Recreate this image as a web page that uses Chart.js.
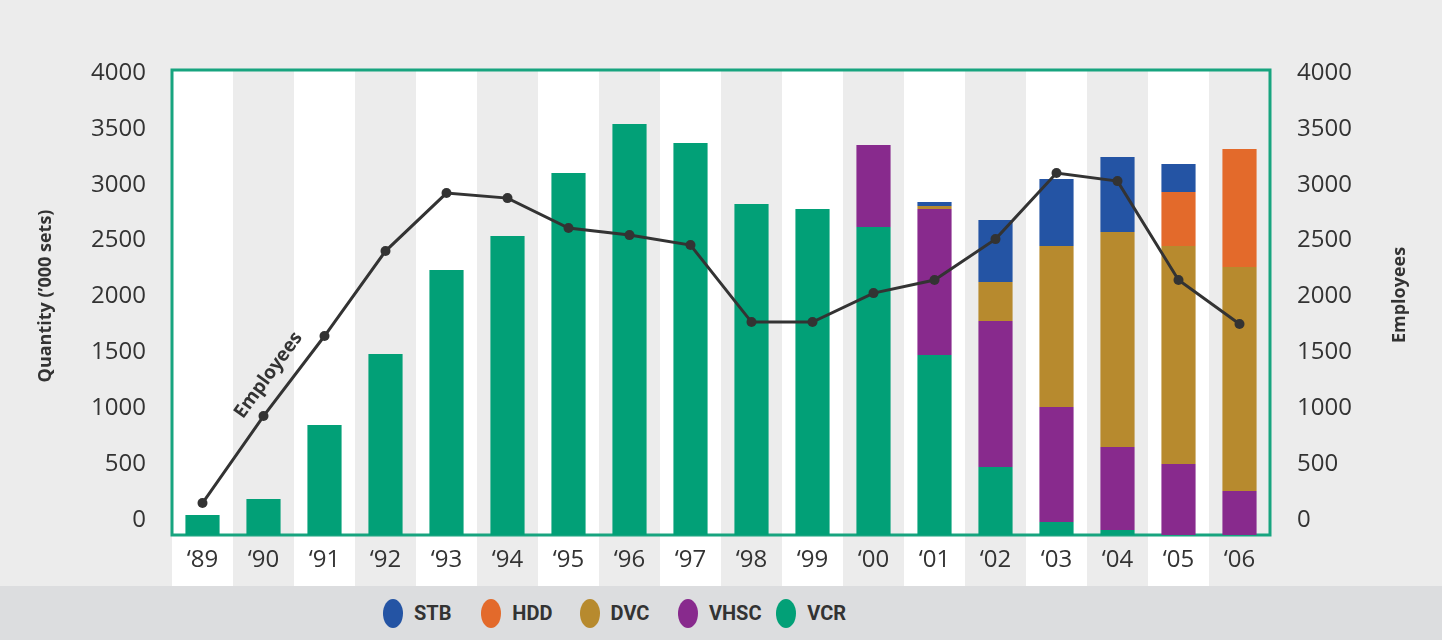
<!DOCTYPE html>
<html>
<head>
<meta charset="utf-8">
<script src="https://cdn.jsdelivr.net/npm/chart.js@4.4.1/dist/chart.umd.min.js"></script>
<style>
  body { margin: 0; background: #ececec; }
  #wrap { position: relative; width: 1442px; height: 640px; }
  #legend { position: absolute; left: 0; top: 586px; width: 1442px; height: 54px; background: #dcdddf; }
  .item { position: absolute; top: 0; height: 54px; display: flex; align-items: center; }
  .dot { width: 20px; height: 29px; border-radius: 50%; margin-right: 11px; }
  .lab { font-family: "Liberation Sans Narrow", "Roboto", sans-serif; font-weight: 700; font-size: 20px; color: #333; }
</style>
</head>
<body>
<div id="wrap">
  <canvas id="grafico" width="1442" height="586"></canvas>
  <div id="legend"></div>
</div>
<script>
// Datos (miles de unidades, empleados)
const years = ['‘89', '‘90', '‘91', '‘92', '‘93', '‘94', '‘95', '‘96', '‘97', '‘98', '‘99', '‘00', '‘01', '‘02', '‘03', '‘04', '‘05', '‘06'];
const vcr = [179, 322, 984, 1619, 2370, 2674, 3238, 3676, 3506, 2961, 2916, 2755, 1610, 608, 116, 45, 0, 0];
const vhsc = [0, 0, 0, 0, 0, 0, 0, 0, 0, 0, 0, 733, 1306, 1306, 1029, 742, 635, 394];
const dvc = [0, 0, 0, 0, 0, 0, 0, 0, 0, 0, 0, 0, 27, 349, 1440, 1923, 1950, 2004];
const hdd = [0, 0, 0, 0, 0, 0, 0, 0, 0, 0, 0, 0, 0, 0, 0, 0, 483, 1055];
const stb = [0, 0, 0, 0, 0, 0, 0, 0, 0, 0, 0, 0, 36, 555, 599, 671, 250, 0];
const employees = [152, 930, 1646, 2406, 2925, 2880, 2612, 2549, 2460, 1771, 1771, 2030, 2147, 2513, 3104, 3032, 2147, 1753];

// Etiquetas de los ejes
const yTicks = [0, 500, 1000, 1500, 2000, 2500, 3000, 3500, 4000];
const leftTitle = 'Quantity (’000 sets)';
const rightTitle = 'Employees';

// Colores
const colores = { STB: '#2454a4', HDD: '#e36a2b', DVC: '#b78a2e', VHSC: '#882a8d', VCR: '#02a077' };
const verde = '#17a47f';
const texto = '#333333';

// Las barras arrancan desde el borde inferior, las etiquetas van algo desplazadas
const yShift = 134;
const yTop = 4026;

// Fondo gris con columnas blancas alternas
const fondo = {
  id: 'fondo',
  beforeDraw(chart) {
    const { ctx, chartArea, scales } = chart;
    ctx.save();
    ctx.fillStyle = '#ececec';
    ctx.fillRect(0, 0, chart.width, chart.height);
    const w = (chartArea.right - chartArea.left) / years.length;
    ctx.fillStyle = '#ffffff';
    for (let i = 0; i < years.length; i += 2) {
      const x = scales.x.getPixelForValue(i);
      ctx.fillRect(x - w / 2, chartArea.top, w, chart.height - chartArea.top);
    }
    ctx.restore();
  },
  beforeDatasetsDraw(chart) {
    const { ctx, chartArea } = chart;
    ctx.save();
    ctx.strokeStyle = verde;
    ctx.lineWidth = 3;
    ctx.strokeRect(chartArea.left, chartArea.top, chartArea.right - chartArea.left, chartArea.bottom - chartArea.top);
    ctx.restore();
  },
  afterDraw(chart) {
    const { ctx } = chart;
    ctx.save();
    ctx.fillStyle = texto;
    ctx.textAlign = 'center';
    ctx.textBaseline = 'middle';
    ctx.font = 'bold 18px "Open Sans"';
    // titulos de los ejes
    ctx.save();
    ctx.translate(46, 296);
    ctx.rotate(-Math.PI / 2);
    ctx.fillText(leftTitle, 0, 0);
    ctx.restore();
    ctx.save();
    ctx.translate(1400, 295);
    ctx.rotate(-Math.PI / 2);
    ctx.fillText(rightTitle, 0, 0);
    ctx.restore();
    // etiqueta sobre la linea de empleados
    const pts = chart.getDatasetMeta(5).data;
    const a = pts[0], b = pts[2], p = pts[1];
    const dx = b.x - a.x, dy = b.y - a.y;
    const len = Math.hypot(dx, dy);
    const ux = dx / len, uy = dy / len;
    // perpendicular hacia arriba a la izquierda
    const px = uy, py = -ux;
    ctx.translate(p.x + ux * 36 + px * 20, p.y + uy * 36 + py * 20);
    ctx.rotate(Math.atan2(dy, dx));
    ctx.font = 'bold 19px "Open Sans"';
    ctx.fillText('Employees', 0, 0);
    ctx.restore();
  }
};

const barra = (label, data) => ({
  type: 'bar',
  label: label,
  data: data,
  backgroundColor: colores[label],
  yAxisID: 'yq',
  order: 1,
  categoryPercentage: 1,
  barPercentage: 0.56
});

const ejeEtiquetas = (pos) => ({
  position: pos,
  min: yTicks[0] - yShift,
  max: yTop,
  grid: { display: false, drawTicks: false },
  border: { display: false },
  afterBuildTicks(scale) { scale.ticks = yTicks.map(v => ({ value: v })); },
  ticks: {
    padding: pos === 'left' ? 26 : 27,
    color: texto,
    font: { family: 'Open Sans', size: 24 },
    callback: v => String(v)
  },
  afterFit(scale) { scale.width = 172; }
});

const chart = new Chart(document.getElementById('grafico'), {
  data: {
    labels: years,
    datasets: [
      barra('VCR', vcr),
      barra('VHSC', vhsc),
      barra('DVC', dvc),
      barra('HDD', hdd),
      barra('STB', stb),
      {
        type: 'line',
        label: 'Employees',
        data: employees,
        yAxisID: 'yl',
        order: 0,
        borderColor: texto,
        backgroundColor: texto,
        borderWidth: 3,
        pointRadius: 5,
        pointBackgroundColor: texto,
        pointBorderWidth: 0,
        tension: 0
      }
    ]
  },
  options: {
    responsive: false,
    devicePixelRatio: 1,
    animation: false,
    layout: { padding: { top: 70, left: 0, right: 0, bottom: 0 } },
    plugins: { legend: { display: false }, tooltip: { enabled: false } },
    scales: {
      x: {
        stacked: true,
        grid: { display: false, drawTicks: false },
        border: { display: false },
        ticks: { padding: 11, color: texto, font: { family: 'Open Sans', size: 24 } },
        afterFit(scale) { scale.height = 51; }
      },
      yq: { display: false, stacked: true, min: 0, max: yTop + yShift },
      yl: ejeEtiquetas('left'),
      yr: ejeEtiquetas('right')
    }
  },
  plugins: [fondo]
});

// Leyenda en HTML, en el orden inverso al apilado
const leyenda = document.getElementById('legend');
const barras = chart.data.datasets.filter(d => d.type === 'bar').reverse();
barras.forEach((d, i) => {
  const item = document.createElement('div');
  item.className = 'item';
  item.style.left = (383 + i * 98.3) + 'px';
  item.innerHTML = '<div class="dot" style="background:' + d.backgroundColor + '"></div><span class="lab">' + d.label + '</span>';
  leyenda.appendChild(item);
});
</script>
</body>
</html>
